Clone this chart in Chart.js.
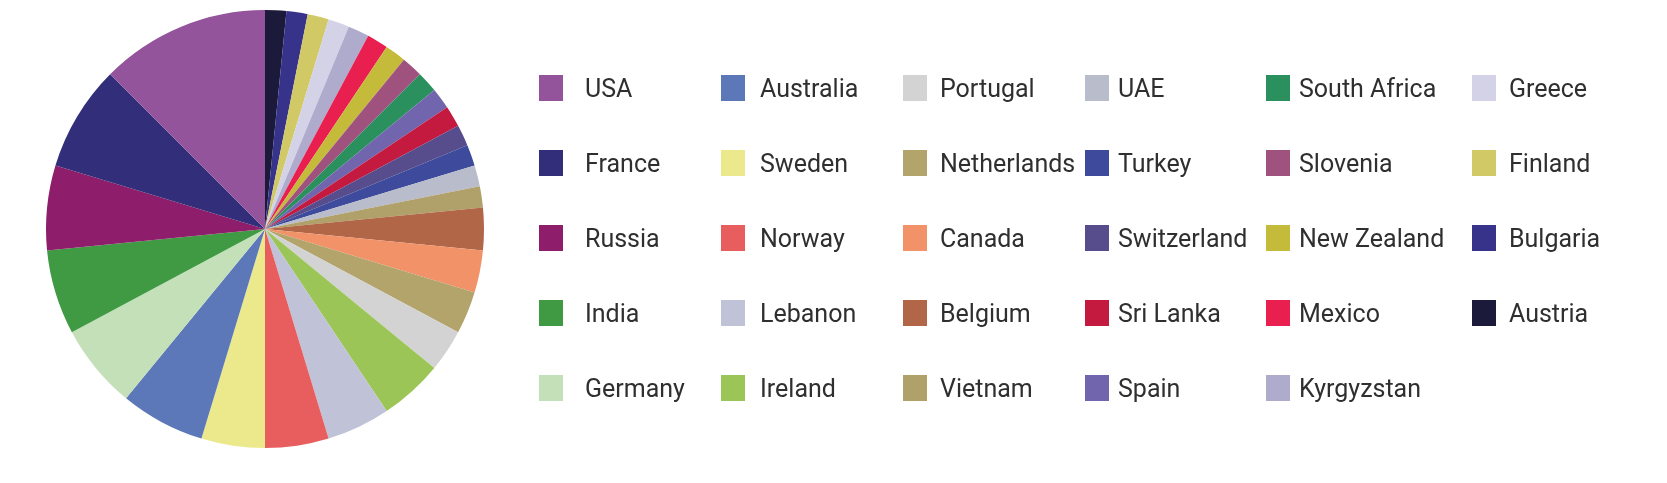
<!DOCTYPE html>
<html>
<head>
<meta charset="utf-8">
<script src="https://cdn.jsdelivr.net/npm/chart.js@4/dist/chart.umd.min.js"></script>
<style>
  html, body { margin: 0; padding: 0; background: #ffffff; }
  #wrap { position: relative; width: 1667px; height: 483px; overflow: hidden; }
  #pieBox { position: absolute; left: 46px; top: 10px; width: 438px; height: 438px; }
  #legend { position: absolute; left: 0; top: 0; width: 1667px; height: 483px; }
  .item { position: absolute; display: flex; align-items: center; height: 26px;
          font-family: Roboto, "Noto Sans", sans-serif; font-size: 25px; color: #2f2f2f; white-space: nowrap; }
  .box { width: 24px; height: 26px; flex: none; }
</style>
</head>
<body>
<div id="wrap">
  <div id="pieBox"><canvas id="pie"></canvas></div>
  <div id="legend"></div>
</div>
<script>
// Data (legend / data order; the pie runs counter-clockwise from 12 o'clock)
const countries = ["USA","France","Russia","India","Germany",
  "Australia","Sweden","Norway","Lebanon","Ireland",
  "Portugal","Netherlands","Canada","Belgium","Vietnam",
  "UAE","Turkey","Switzerland","Sri Lanka","Spain",
  "South Africa","Slovenia","New Zealand","Mexico","Kyrgyzstan",
  "Greece","Finland","Bulgaria","Austria"];
const counts = [8,5,4,4,4,
  4,3,3,3,3,
  2,2,2,2,1,
  1,1,1,1,1,
  1,1,1,1,1,
  1,1,1,1];
const colors = ["#93549b","#332e7a","#8e1e6b","#3f9a43","#c4e0b9",
  "#5c78b8","#ebe98b","#e85d5e","#c0c2d8","#9bc657",
  "#d3d3d3","#b3a46c","#f29268","#b06647","#b0a06a",
  "#b8bccb","#3e4a9c","#574c8c","#c51a40","#7166ad",
  "#2a915e","#a0527e","#c5bb3a","#e81f4f","#aeabcd",
  "#d4d2e6","#d0c966","#37338a","#1c1a3a"];

// Pie (Chart.js draws clockwise, so feed reversed copies)
const pieLabels = countries.slice().reverse();
const pieData = counts.slice().reverse();
const pieColors = colors.slice().reverse();

new Chart(document.getElementById('pie'), {
  type: 'pie',
  data: { labels: pieLabels, datasets: [{ data: pieData, backgroundColor: pieColors, borderWidth: 0 }] },
  options: {
    responsive: true, maintainAspectRatio: false, animation: false,
    layout: { padding: 0 },
    plugins: { legend: { display: false }, tooltip: { enabled: false } }
  }
});

// Legend layout (column-major, 5 rows)
const rowsPerCol = 5;
const colBoxX = [539, 721, 903, 1085, 1266, 1472];
const colTextX = [585, 760, 940, 1118, 1299, 1509];
const rowCenter0 = 88, rowStep = 75;
const legend = document.getElementById('legend');
countries.forEach((name, i) => {
  const c = Math.floor(i / rowsPerCol), r = i % rowsPerCol;
  const item = document.createElement('div');
  item.className = 'item';
  item.style.left = colBoxX[c] + 'px';
  item.style.top = (rowCenter0 + r * rowStep - 13) + 'px';
  const box = document.createElement('span');
  box.className = 'box';
  box.style.background = colors[i];
  const txt = document.createElement('span');
  txt.textContent = name;
  txt.style.marginLeft = (colTextX[c] - colBoxX[c] - 24) + 'px';
  item.appendChild(box);
  item.appendChild(txt);
  legend.appendChild(item);
});
</script>
</body>
</html>
